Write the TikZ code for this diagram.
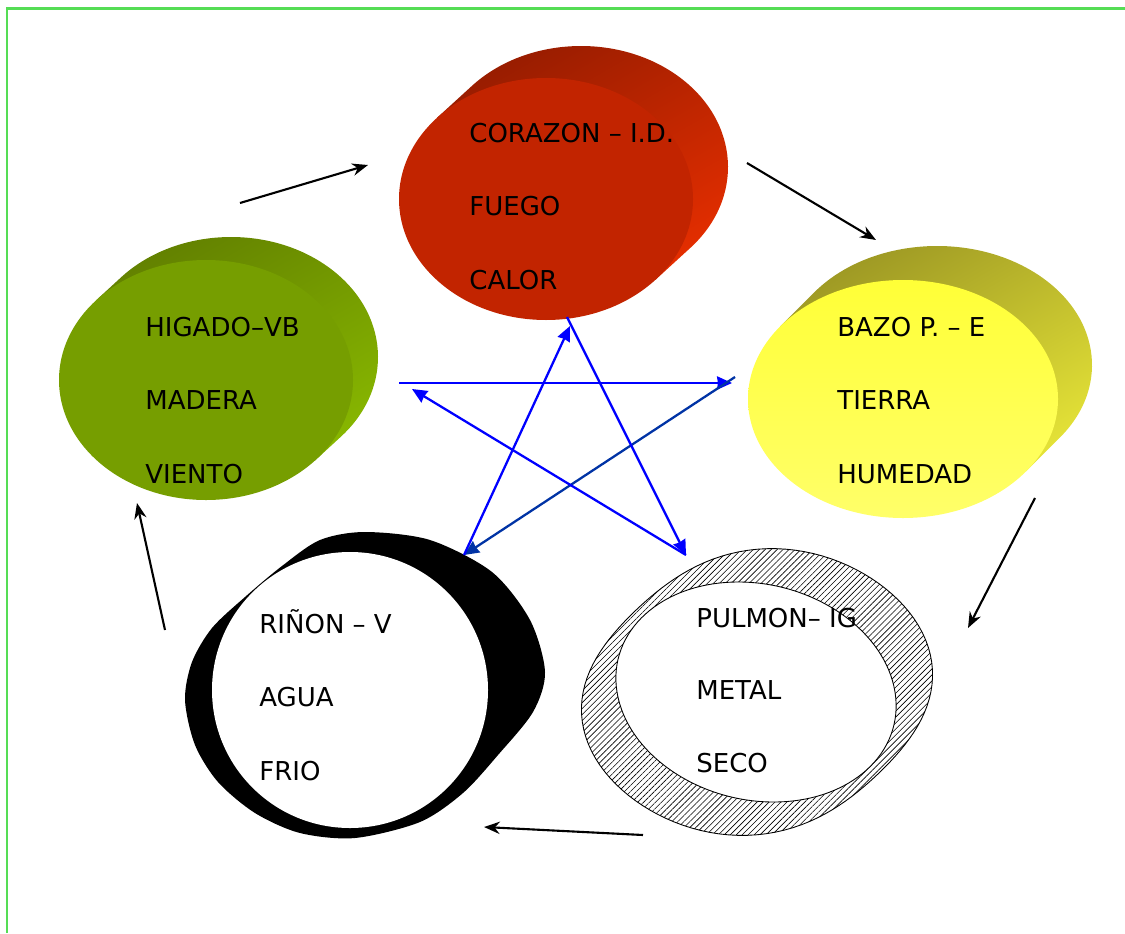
\documentclass[tikz,border=0pt]{standalone}
\usepackage{fontspec}
\setmainfont{DejaVu Sans}
\usetikzlibrary{patterns.meta, arrows.meta}

\definecolor{framegreen}{RGB}{85,221,85}
\definecolor{redfront}{RGB}{194,36,0}
\definecolor{redtop}{RGB}{150,28,0}
\definecolor{redside}{RGB}{228,46,0}
\definecolor{greenfront}{RGB}{118,158,0}
\definecolor{greentop}{RGB}{98,128,0}
\definecolor{greenside}{RGB}{135,182,0}
\definecolor{yellowfront}{RGB}{255,255,55}
\definecolor{yellowlow}{RGB}{255,255,105}
\definecolor{yellowtop}{RGB}{155,150,35}
\definecolor{yellowside}{RGB}{228,226,55}
\definecolor{starnavy}{RGB}{0,51,165}

\begin{document}
\begin{tikzpicture}[
    x=0.02cm, y=-0.02cm,
    txt/.style={font=\fontsize{14.8}{17}\selectfont, anchor=base west, inner sep=0pt},
    gen/.style={->, >={Stealth[length=9pt, width=7pt]}, line width=1.2pt, black},
    dom/.style={->, >={Stealth[length=8.5pt, width=7.5pt, inset=0.5pt]}, line width=1.3pt, blue},
    hatch/.style={pattern={Lines[angle=45, distance=2.4pt, line width=0.35pt]}, line width=0.5pt}
]
   \useasboundingbox (0,0) rectangle (1125,933);

   % Page frame
   \draw[framegreen, line width=1.2pt] (7,933) -- (7,8.5) -- (1125,8.5);

   % Discs with colors: back side first, then the front face
   \shade[top color=redtop, bottom color=redside, shading angle=30]
     (546,199) ++(222:147 and 121) -- ++(35,-32)
     arc[start angle=222, end angle=402, x radius=147, y radius=121] -- ++(-35,32) -- cycle;
   \fill[redfront] (546,199) ellipse[x radius=147, y radius=121];

   \shade[top color=greentop, bottom color=greenside, shading angle=30]
     (206,380) ++(222:147 and 120) -- ++(25,-23)
     arc[start angle=222, end angle=402, x radius=147, y radius=120] -- ++(-25,23) -- cycle;
   \fill[greenfront] (206,380) ellipse[x radius=147, y radius=120];

   \shade[top color=yellowtop, bottom color=yellowside, shading angle=30]
     (903,399) ++(217.5:155 and 119) -- ++(34,-34)
     arc[start angle=217.5, end angle=397.5, x radius=155, y radius=119] -- ++(-34,34) -- cycle;
   \shade[top color=yellowfront, bottom color=yellowlow] (903,399) ellipse[x radius=155, y radius=119];

   \fill[black] plot[smooth cycle] coordinates {(365,532) (430,540) (492,572) (530,620)
     (545,672) (533,712) (498,755) (463,793) (420,822) (355,838) (300,833) (255,813)
     (218,782) (195,745) (185,700) (192,662) (212,628) (245,597) (282,566) (320,540)};
   \fill[white] (350,690) circle[radius=138];

   \draw[hatch] plot[domain=0:360, samples=121, variable=\t]
     ({757+182*cos(\t)*(1-0.13*(cos(\t-40)*cos(\t-40))^2)},
      {692+146*sin(\t)*(1-0.13*(cos(\t-40)*cos(\t-40))^2)}) -- cycle;
   \draw[fill=white, line width=0.5pt, shift={(756,692)}, xslant=-0.16]
     (0,0) ellipse[x radius=139, y radius=110];

   % Labels
   \node[txt] (corazon) at (469,142) {CORAZON – I.D.};
   \node[txt] (fuego) at ([yshift=-1.474cm]corazon.base west) {FUEGO};
   \node[txt] (calor) at ([yshift=-1.474cm]fuego.base west) {CALOR};

   \node[txt] (higado) at (145,336) {HIGADO–VB};
   \node[txt] (madera) at ([yshift=-1.474cm]higado.base west) {MADERA};
   \node[txt] (viento) at ([yshift=-1.474cm]madera.base west) {VIENTO};

   \node[txt] (bazo) at (837,336) {BAZO P. – E};
   \node[txt] (tierra) at ([yshift=-1.474cm]bazo.base west) {TIERRA};
   \node[txt] (humedad) at ([yshift=-1.474cm]tierra.base west) {HUMEDAD};

   \node[txt] (rinon) at (259,633) {RIÑON – V};
   \node[txt] (agua) at ([yshift=-1.474cm]rinon.base west) {AGUA};
   \node[txt] (frio) at ([yshift=-1.474cm]agua.base west) {FRIO};

   \node[txt] (pulmon) at (696,627) {PULMON– IG};
   \node[txt] (metal) at ([yshift=-1.46cm]pulmon.base west) {METAL};
   \node[txt] (seco) at ([yshift=-1.46cm]metal.base west) {SECO};

   % Arrow ends
   \coordinate (madFue1) at (240,203);
   \coordinate (madFue2) at (368,165);
   \coordinate (fueTie1) at (747,163);
   \coordinate (fueTie2) at (876,240);
   \coordinate (tieMet1) at (1035,498);
   \coordinate (tieMet2) at (968,628);
   \coordinate (metAgu1) at (643,835);
   \coordinate (metAgu2) at (484,827);
   \coordinate (aguMad1) at (165,630);
   \coordinate (aguMad2) at (137,503);

   \coordinate (kTop) at (570,326);
   \coordinate (kTopB) at (567,317);
   \coordinate (kLeft) at (399,383);
   \coordinate (kLeftB) at (412,389);
   \coordinate (kRight) at (732,383);
   \coordinate (kRightB) at (735,377);
   \coordinate (kLowL) at (464,555);
   \coordinate (kLowR) at (686,555);

   % Cycle arrows
   \draw[gen] (madFue1) -- (madFue2);
   \draw[gen] (fueTie1) -- (fueTie2);
   \draw[gen] (tieMet1) -- (tieMet2);
   \draw[gen] (metAgu1) -- (metAgu2);
   \draw[gen] (aguMad1) -- (aguMad2);

   % Star
   \draw[dom] (kLeft) -- (kRight);
   \draw[dom, starnavy] (kRightB) -- (kLowL);
   \draw[dom] (kLowL) -- (kTop);
   \draw[dom] (kTopB) -- (kLowR);
   \draw[dom] (kLowR) -- (kLeftB);
\end{tikzpicture}
\end{document}
